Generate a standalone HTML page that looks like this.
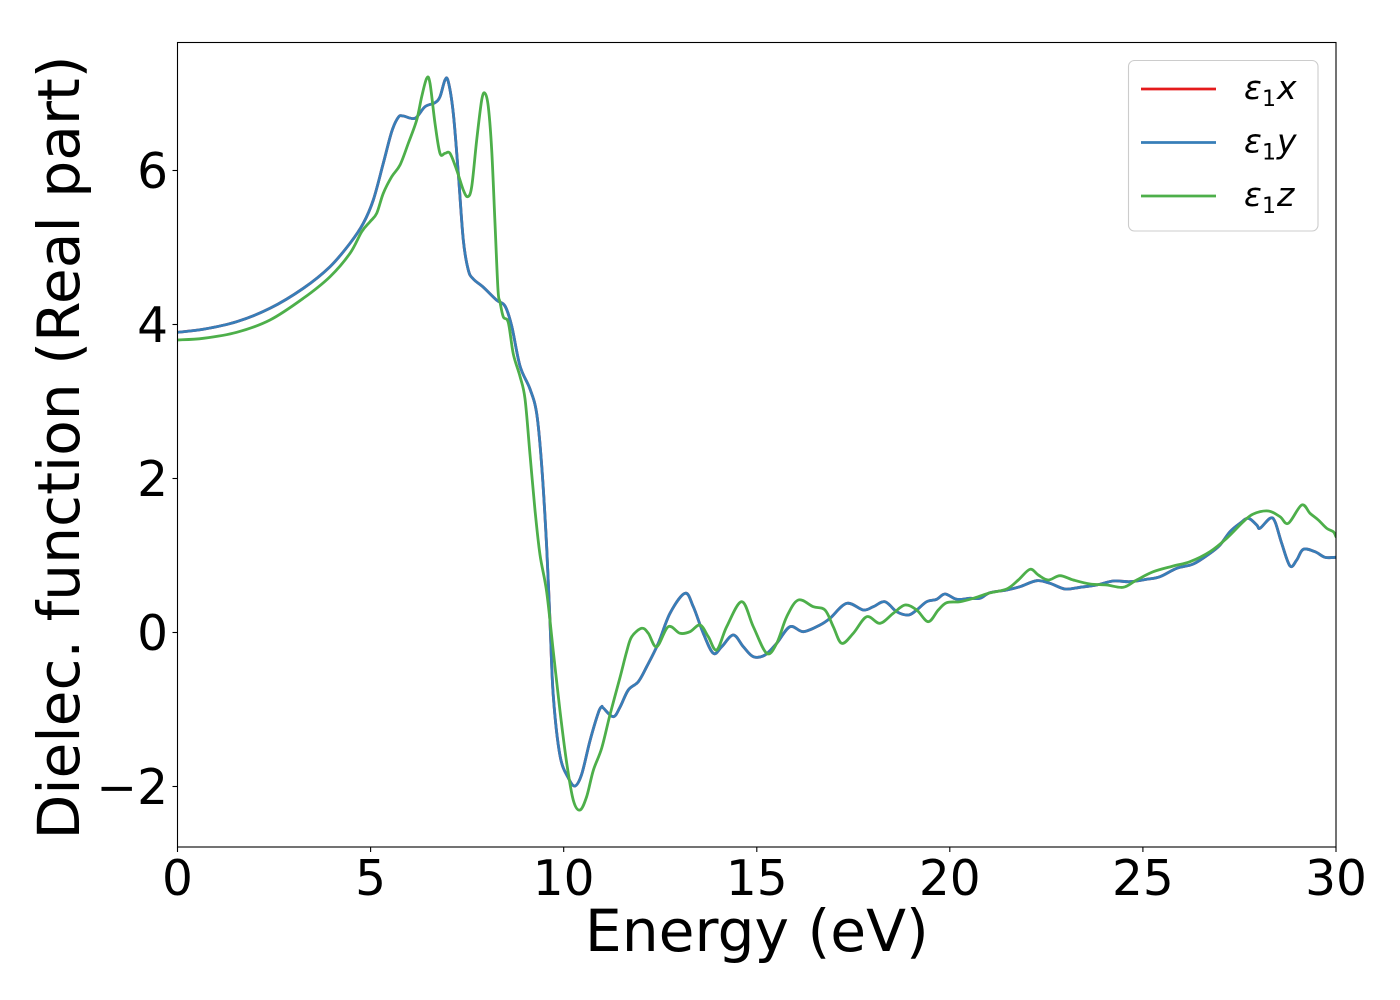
<!DOCTYPE html>
<html>
<head>
<meta charset="utf-8">
<style>
html,body{margin:0;padding:0;background:#fff;}
svg{display:block;}
text{font-family:"DejaVu Sans","Liberation Sans",sans-serif;fill:#000;}
</style>
</head>
<body>
<svg id="chart" width="1400" height="1000" viewBox="0 0 1400 1000" xmlns="http://www.w3.org/2000/svg">
<rect x="0" y="0" width="1400" height="1000" fill="#fff"/>
<defs>
<clipPath id="pa"><rect x="177.5" y="42.5" width="1158.5" height="804.5"/></clipPath>
</defs>
<g id="curves" clip-path="url(#pa)" fill="none" stroke-width="2.8" stroke-linejoin="round" stroke-linecap="round">
<polyline stroke="#e41a1c" points="177.3,332.3 203.3,329.3 236.7,321.7 270,308.3 303.3,288.3 330,266.7 350,243.3 363.3,223.3 373.3,200 383.3,163.3 391.7,131.7 398.3,117.3 403.3,116 415,118.3 425,106.7 435,102.7 440,96.7 445,80 448.3,81.7 453.3,113.3 458.3,173.3 463.3,240 468.3,270 473.3,279 483.3,287.2 496.7,300.2 505,306 511.7,326 520,366 530,389 536.7,413.6 541.7,465.6 546.7,547.4 550,621.7 553.3,696 560,755.6 568.3,777.9 575,786 581.7,774.2 590,740.7 598.3,712.8 601.7,706.7 603.3,708 613.3,716.7 620,707.2 628.3,690 638.3,681.7 646.7,666.7 658.3,643.3 670,613.3 685,593.3 693.3,606.7 703.3,633.3 713.3,653.3 721.7,646.7 733.3,635 743.3,646.7 753.3,656.7 765,655 776.7,643.3 790,626.7 803.3,631.7 820,625 830,618.3 846.7,603.3 863.3,610 873.3,606.7 885,601.7 896.7,611.7 908.3,615 916.7,610 926.7,601.7 936.7,599.3 945,594 956.7,599.3 970,598.3 980,598.3 990,592.7 1006.7,590 1020,586.7 1036.7,580.7 1050,583.3 1065,589 1080,587.3 1096.7,585 1113.3,581 1130,581.7 1146.7,579.3 1160,576.7 1176.7,568.3 1193.3,564 1210,553.3 1220,545 1230,531.7 1240,523.3 1248.3,518.3 1256.7,525 1260,528.3 1270,518.3 1275,521.7 1281.7,543.3 1290,566 1296.7,560 1303.3,549.3 1315,551.7 1325,557.3 1336,557.3"/>
<polyline stroke="#377eb8" points="177.3,332.3 203.3,329.3 236.7,321.7 270,308.3 303.3,288.3 330,266.7 350,243.3 363.3,223.3 373.3,200 383.3,163.3 391.7,131.7 398.3,117.3 403.3,116 415,118.3 425,106.7 435,102.7 440,96.7 445,80 448.3,81.7 453.3,113.3 458.3,173.3 463.3,240 468.3,270 473.3,279 483.3,287.2 496.7,300.2 505,306 511.7,326 520,366 530,389 536.7,413.6 541.7,465.6 546.7,547.4 550,621.7 553.3,696 560,755.6 568.3,777.9 575,786 581.7,774.2 590,740.7 598.3,712.8 601.7,706.7 603.3,708 613.3,716.7 620,707.2 628.3,690 638.3,681.7 646.7,666.7 658.3,643.3 670,613.3 685,593.3 693.3,606.7 703.3,633.3 713.3,653.3 721.7,646.7 733.3,635 743.3,646.7 753.3,656.7 765,655 776.7,643.3 790,626.7 803.3,631.7 820,625 830,618.3 846.7,603.3 863.3,610 873.3,606.7 885,601.7 896.7,611.7 908.3,615 916.7,610 926.7,601.7 936.7,599.3 945,594 956.7,599.3 970,598.3 980,598.3 990,592.7 1006.7,590 1020,586.7 1036.7,580.7 1050,583.3 1065,589 1080,587.3 1096.7,585 1113.3,581 1130,581.7 1146.7,579.3 1160,576.7 1176.7,568.3 1193.3,564 1210,553.3 1220,545 1230,531.7 1240,523.3 1248.3,518.3 1256.7,525 1260,528.3 1270,518.3 1275,521.7 1281.7,543.3 1290,566 1296.7,560 1303.3,549.3 1315,551.7 1325,557.3 1336,557.3"/>
<polyline stroke="#4daf4a" points="177.3,340 203.3,338.3 236.7,332.3 270,320 303.3,298.3 330,276.7 350,253.3 361.7,231.7 370,221.7 376.7,213.3 383.3,193.3 391.7,176.7 400,165 408.3,143.3 416.7,120 421.7,96.7 426.7,78.3 430,83.3 435,123.3 440,153.3 445,153.3 450,153.3 456.7,170 463.3,190 467.7,196.7 471.7,186.7 476.7,140 481.7,100 485,93.3 488.3,106.7 491.7,150 495,223.3 498,290 500,302 503.3,316.9 508.3,322.5 513.3,354 520,376.4 525,398.7 530,454.5 535,510.2 540,554.8 546.7,592 553.3,651.5 560,711 566.7,763 573.3,800.2 580,810 586.7,796.5 593.3,770.4 601.7,748.1 610,714.7 620,677.5 626.7,651.5 631.7,636.7 641.7,628.3 648.3,633.3 656.7,646.7 668.3,626.7 680,633.3 690,631.7 700,625 708.3,636.7 716.7,650 726.7,626.7 741.7,601.7 753.3,626.7 766.7,653.3 776.7,643.3 786.7,616.7 798.3,600 813.3,606.7 825,610 833.3,626.7 841.7,643.3 853.3,633.3 866.7,616.7 880,623.3 893.3,613.3 905,605 916.7,610 928.3,621.7 938.3,610 946.7,602.7 960,601.7 973.3,598.3 988.3,593.3 1006.7,589 1018.3,580 1030,569.3 1038.3,575 1048.3,580 1060,575.7 1073.3,580 1090,584 1106.7,585 1123.3,587.3 1136.7,580 1153.3,571.7 1173.3,566 1190,561.7 1210,551.7 1226.7,538.3 1243.3,521.7 1253.3,514 1268.3,511 1280,516.7 1288.3,523.3 1301.7,505 1310,513.3 1318.3,520 1326.7,528.3 1333.3,531.7 1336,536.7"/>
</g>
<!-- axes frame -->
<rect x="177.5" y="42.5" width="1158.5" height="804.5" fill="none" stroke="#000" stroke-width="1.1"/>
<!-- ticks -->
<g stroke="#000" stroke-width="1.1">
<line x1="177.5" y1="847" x2="177.5" y2="852"/>
<line x1="370.6" y1="847" x2="370.6" y2="852"/>
<line x1="563.7" y1="847" x2="563.7" y2="852"/>
<line x1="756.8" y1="847" x2="756.8" y2="852"/>
<line x1="949.8" y1="847" x2="949.8" y2="852"/>
<line x1="1142.9" y1="847" x2="1142.9" y2="852"/>
<line x1="1336" y1="847" x2="1336" y2="852"/>
<line x1="172.5" y1="786.5" x2="177.5" y2="786.5"/>
<line x1="172.5" y1="632.5" x2="177.5" y2="632.5"/>
<line x1="172.5" y1="478.5" x2="177.5" y2="478.5"/>
<line x1="172.5" y1="324.5" x2="177.5" y2="324.5"/>
<line x1="172.5" y1="170.5" x2="177.5" y2="170.5"/>
</g>
<g font-size="48.6" text-anchor="middle">
<text x="177.5" y="895">0</text>
<text x="370.6" y="895">5</text>
<text x="563.7" y="895">10</text>
<text x="756.8" y="895">15</text>
<text x="949.8" y="895">20</text>
<text x="1142.9" y="895">25</text>
<text x="1336" y="895">30</text>
</g>
<g font-size="48.6" text-anchor="end">
<text x="168" y="804">−2</text>
<text x="168" y="650">0</text>
<text x="168" y="496">2</text>
<text x="168" y="342">4</text>
<text x="168" y="188">6</text>
</g>
<text x="756.8" y="951" font-size="58.3" text-anchor="middle">Energy (eV)</text>
<text transform="translate(79,447.5) rotate(-90)" x="0" y="0" font-size="58.3" text-anchor="middle">Dielec. function (Real part)</text>
<!-- legend -->
<rect x="1128.5" y="60.5" width="189.5" height="170.5" rx="6" ry="6" fill="#fff" fill-opacity="0.8" stroke="#cccccc" stroke-width="1.1"/>
<g stroke-width="2.8">
<line x1="1141" y1="89" x2="1216" y2="89" stroke="#e41a1c"/>
<line x1="1141" y1="142.5" x2="1216" y2="142.5" stroke="#377eb8"/>
<line x1="1141" y1="196" x2="1216" y2="196" stroke="#4daf4a"/>
</g>
<g font-size="33">
<text y="99"><tspan x="1244" font-style="italic">ε</tspan><tspan x="1262" dy="7" font-size="22">1</tspan><tspan x="1277" dy="-7" font-style="italic">x</tspan></text>
<text y="152.5"><tspan x="1244" font-style="italic">ε</tspan><tspan x="1262" dy="7" font-size="22">1</tspan><tspan x="1277" dy="-7" font-style="italic">y</tspan></text>
<text y="206"><tspan x="1244" font-style="italic">ε</tspan><tspan x="1262" dy="7" font-size="22">1</tspan><tspan x="1277" dy="-7" font-style="italic">z</tspan></text>
</g>
</svg>
<script>
(function(){
  var g=document.getElementById('curves');
  if(!g) return;
  var pls=g.querySelectorAll('polyline');
  var NS='http://www.w3.org/2000/svg';
  for(var k=0;k<pls.length;k++){
    var pl=pls[k];
    var raw=pl.getAttribute('points').trim().split(/\s+/);
    var p=[];
    for(var i=0;i<raw.length;i++){var a=raw[i].split(',');p.push([+a[0],+a[1]]);}
    var d='M'+p[0][0]+','+p[0][1];
    for(var i=0;i<p.length-1;i++){
      var p0=p[i>0?i-1:i],p1=p[i],p2=p[i+1],p3=p[i+2<p.length?i+2:i+1];
      var c1x=p1[0]+(p2[0]-p0[0])/6,c1y=p1[1]+(p2[1]-p0[1])/6;
      var c2x=p2[0]-(p3[0]-p1[0])/6,c2y=p2[1]-(p3[1]-p1[1])/6;
      d+=' C'+c1x.toFixed(2)+','+c1y.toFixed(2)+' '+c2x.toFixed(2)+','+c2y.toFixed(2)+' '+p2[0]+','+p2[1];
    }
    var path=document.createElementNS(NS,'path');
    path.setAttribute('d',d);
    path.setAttribute('stroke',pl.getAttribute('stroke'));
    g.replaceChild(path,pl);
  }
})();
</script>
</body>
</html>
